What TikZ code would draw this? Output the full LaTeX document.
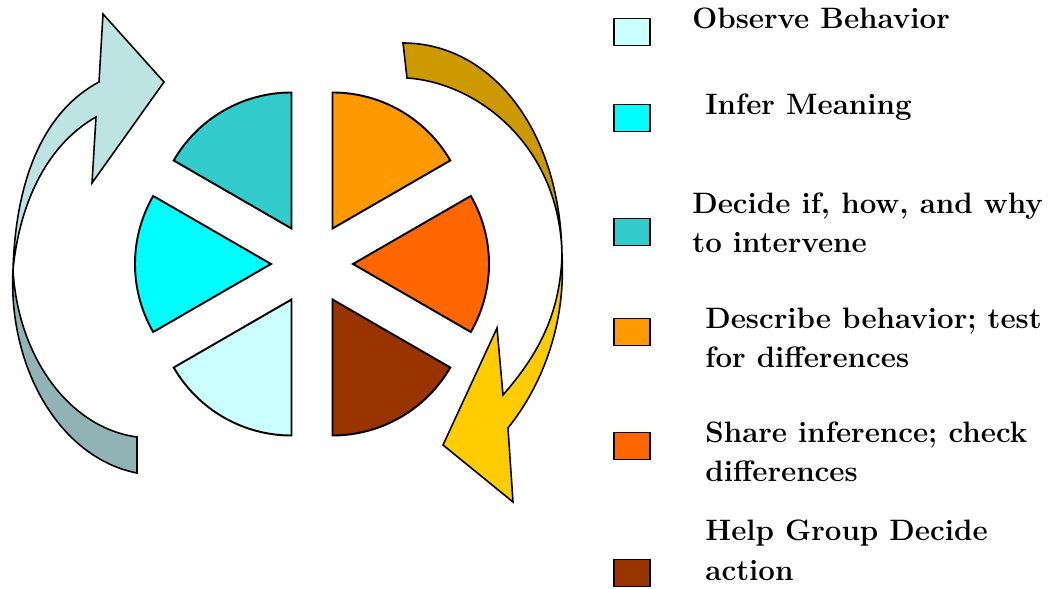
\documentclass[tikz,border=0pt]{standalone}
\usepackage{tikz}
\usetikzlibrary{positioning}
\definecolor{observe}{HTML}{CCFFFF}
\definecolor{infer}{HTML}{00FFFF}
\definecolor{decide}{HTML}{33CCCC}
\definecolor{describe}{HTML}{FF9900}
\definecolor{share}{HTML}{FF6600}
\definecolor{helpact}{HTML}{993300}
\definecolor{bluelight}{HTML}{BDE3E3}
\definecolor{bluedark}{HTML}{92B3B5}
\definecolor{golddark}{HTML}{CC9900}
\definecolor{goldlight}{HTML}{FFCC00}
\begin{document}
\begin{tikzpicture}
[x=0.02cm,y=0.02cm,
 wedge/.style={draw=black,line width=1.1pt,line join=miter},
 band/.style={draw=black,line width=0.9pt,line join=miter},
 key/.style={draw=black,line width=1.1pt,minimum width=0.72cm,minimum height=0.54cm,inner sep=0pt},
 item/.style={anchor=base west,inner sep=0pt,align=left,font=\fontsize{16.8}{22.2}\selectfont\bfseries}]
\useasboundingbox (0,0) rectangle (1060,588);
\coordinate (c) at (312,324);

% exploded pie, six steps
\foreach \a/\col in {120/decide,60/describe,0/share,-60/helpact,240/observe,180/infer}
  \draw[wedge,fill=\col] (c) ++(\a:41) -- ++({\a-30}:136)
    arc[start angle={\a-30},end angle={\a+30},radius=136] -- cycle;

% left arrow, twisted ribbon
\draw[band,fill=bluedark] (13,318) .. controls (8,220) and (60,130) .. (137,115)
  -- (137,151) .. controls (70,160) and (18,230) .. (13,318) -- cycle;
\draw[band,fill=bluelight] (13,318) .. controls (16,420) and (50,480) .. (99,506)
  -- (103,574) -- (164,506) -- (92,405) -- (96,471)
  .. controls (50,445) and (20,390) .. (13,318) -- cycle;

% right arrow, twisted ribbon
\draw[band,fill=golddark] (403,545) .. controls (490,545) and (560,460) .. (562,333)
  .. controls (560,440) and (480,505) .. (407,510) -- cycle;
\draw[band,fill=goldlight] (562,333) .. controls (566,260) and (540,200) .. (508,160)
  -- (513,86) -- (443,143) -- (497,260) -- (503,193)
  .. controls (535,230) and (560,270) .. (562,333) -- cycle;

% legend
\node[key,fill=observe]  (kobs)  at (632,556) {};
\node[key,fill=infer]    (kinf)  at (632,470) {};
\node[key,fill=decide]   (kdec)  at (632,356) {};
\node[key,fill=describe] (kdes)  at (632,256) {};
\node[key,fill=share]    (kshr)  at (632,142) {};
\node[key,fill=helpact]  (khlp)  at (632,15) {};

\node[item] (tobs) at (692,559) {Observe Behavior};
\node[item] (tinf) at (705,473) {Infer Meaning};
\node[item] (tdec) at (692,335) {Decide if, how, and why\\to intervene};
\node[item] (tdes) at (705,220) {Describe behavior; test\\for differences};
\node[item] (tshr) at (705,106) {Share inference; check\\differences};
\node[item] (thlp) at (705,8) {Help Group Decide\\action};
\end{tikzpicture}
\end{document}
